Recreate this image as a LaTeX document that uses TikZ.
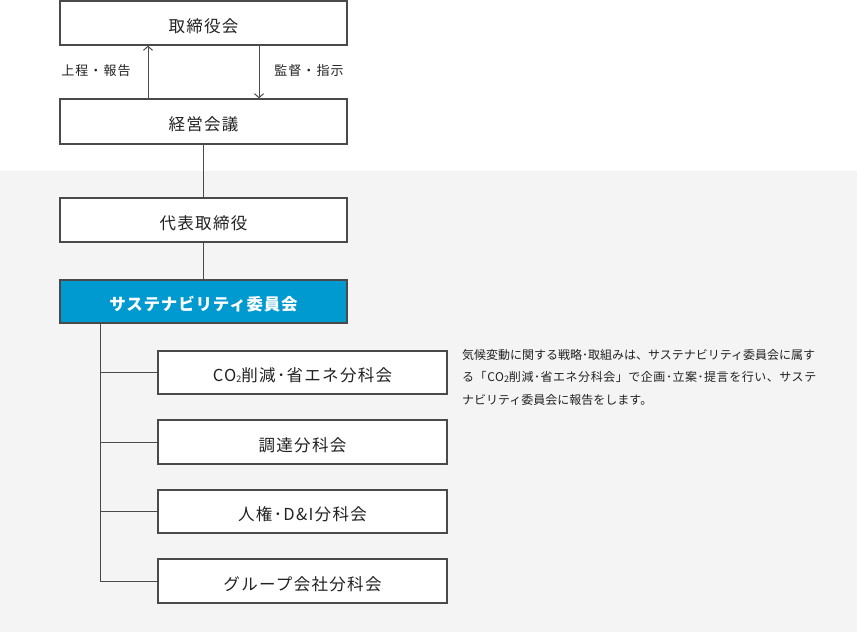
\documentclass[tikz,border=0pt]{standalone}
\usepackage{fontspec}
\setmainfont{Noto Sans CJK JP}
\newfontfamily\cjk{Noto Sans CJK JP}
\usetikzlibrary{arrows.meta}
\definecolor{edge}{HTML}{4A4A4A}
\definecolor{bggray}{HTML}{F4F4F4}
\definecolor{susblue}{HTML}{0099D0}
\definecolor{txt}{HTML}{222222}
\tikzset{
  box/.style={draw=edge, line width=1.3pt, fill=white, inner sep=0pt, text=txt,
    text height=20pt, text depth=1.5pt,
    font=\fontsize{16.5}{16.5}\selectfont\addfontfeature{LetterSpace=8}},
  bluebox/.style={box, fill=susblue, text=white,
    font=\fontsize{16.5}{16.5}\selectfont\bfseries\addfontfeature{LetterSpace=5}},
  conn/.style={draw=edge, line width=1pt},
  arr/.style={conn, -{Straight Barb[length=4pt,width=9pt]}},
  lbl/.style={text=txt, font=\fontsize{13}{13}\selectfont\addfontfeature{LetterSpace=8}, inner sep=0pt},
  desc/.style={text=txt, font=\fontsize{12}{22.5}\selectfont, inner sep=0pt, align=left, anchor=north west}
}
\newcommand{\cotwo}{CO\raisebox{-0.1ex}{\fontsize{9}{9}\selectfont 2}}
\begin{document}
\begin{tikzpicture}[x=1pt,y=-1pt]
\useasboundingbox (0,0) rectangle (857,633);
\fill[bggray] (0,171) rectangle (857,632);
% boxes
\node[box, minimum width=287pt, minimum height=44pt] (tori) at (203.5,23) {取締役会};
\node[box, minimum width=287pt, minimum height=45pt] (keiei) at (203.5,121.5) {経営会議};
\node[box, minimum width=287pt, minimum height=44pt] (daihyo) at (203.5,220) {代表取締役};
\node[bluebox, minimum width=287pt, minimum height=43pt] (sus) at (203.5,301.5) {サステナビリティ委員会};
\node[box, minimum width=289pt, minimum height=43pt] (co2) at (302.5,372.5) {\cotwo 削減･省エネ分科会};
\node[box, minimum width=289pt, minimum height=44pt] (chotatsu) at (302.5,442) {調達分科会};
\node[box, minimum width=289pt, minimum height=43pt] (jinken) at (302.5,511.5) {人権･D\&I分科会};
\node[box, minimum width=289pt, minimum height=44pt] (group) at (302.5,581) {グループ会社分科会};
% arrows between top boxes
\draw[arr] (keiei.north -| 148,0) -- (tori.south -| 148,0);
\draw[arr] (tori.south -| 259,0) -- (keiei.north -| 259,0);
\node[lbl] (l1) at (96,71) {上程・報告};
\node[lbl] (l2) at (309,71) {監督・指示};
% vertical chain
\draw[conn] (keiei.south) -- (daihyo.north);
\draw[conn] (daihyo.south) -- (sus.north);
% tree
\coordinate (trunk) at (100,0);
\draw[conn] (sus.south -| trunk) -- (group.west -| trunk) -- (group.west);
\draw[conn] (co2.west -| trunk) -- (co2.west);
\draw[conn] (chotatsu.west -| trunk) -- (chotatsu.west);
\draw[conn] (jinken.west -| trunk) -- (jinken.west);
% description
\node[desc] (d) at (462,349) {気候変動に関する戦略･取組みは、サステナビリティ委員会に属す\\{\addfontfeature{LetterSpace=4.5}る「\cotwo 削減･省エネ分科会」で企画･立案･提言を行い、サステ}\\ナビリティ委員会に報告をします。};
\end{tikzpicture}
\end{document}
